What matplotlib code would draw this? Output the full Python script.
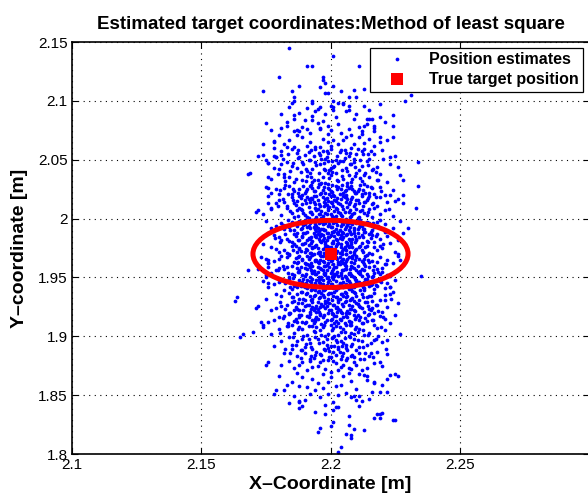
import matplotlib.pyplot as plt
from matplotlib.patches import Ellipse

plt.rcParams["font.family"] = ["Liberation Sans", "DejaVu Sans"]

# true target position [m]
target_x = 2.2
target_y = 1.97

# ellipse drawn round the target [m]
ellipse_w = 0.06
ellipse_h = 0.057

# estimation errors (dx, dy) in mm, points read one by one at the rim of the cloud
errors_outer_mm = [
    (-16, 175), (1, 168), (-9, 160), (-7, 160), (11, 160), (-20, 150), (-3, 150), (-3, 148), (-2, 145),
    (-26, 138), (-15, 138), (-14, 133), (-15, 128), (-12, 143), (-4, 142), (-2, 137), (-1, 137), (1, 143),
    (4, 138), (9, 139), (7, 133), (10, 133), (13, 140), (29, 130), (31, 135), (-14, 130), (-7, 130), (1, 130),
    (3, 128), (5, 127), (-5, 123), (-4, 125), (1, 125), (7, 126), (7, 122), (14, 115), (15, 115), (16, 115),
    (19, 116), (13, 109), (17, 109), (17, 107), (24, 109), (-12, 120), (-14, 115), (-7, 117), (-7, 114),
    (-14, 104), (-13, 105), (-9, 106), (-4, 106), (0, 105), (12, 104), (19, 99), (24, 99), (-25, 111),
    (-19, 107), (-17, 109), (-22, 95), (-22, 90), (-17, 91), (-26, 84), (-22, 83), (-21, 82), (-19, 84),
    (-24, 77), (-22, 73), (-19, 76), (-31, 69), (-24, 65), (-18, 65), (-25, 80), (-32, 68), (-28, 83),
    (34, 78), (34, 58), (28, 63), (23, 82), (26, 74), (27, 67), (28, 50), (28, 43), (33, 39), (25, 45),
    (23, 50), (-29, 36), (-28, 37), (-24, 56), (-23, 52), (-24, 49), (-23, 39), (-21, 43), (30, 22), (26, 0),
    (27, -5), (35, -19), (23, -28), (23, -34), (21, -39), (20, -12),
    (-25, -4), (-24, -8), (-24, -5), (-24, -11), (-32, -14), (-36, -37), (-28, -44), (-25, -20), (-24, -25),
    (-34, -68), (-30, -66), (-27, -58), (-26, -60), (-26, -62), (-24, -92), (-21, -116), (-37, -40),
    (-35, -71), (-29, -46), (-22, -119), (-25, -94),
    (-17, -111), (-12, -126), (27, -68), (22, -73), (19, -92), (23, -103), (25, -102), (17, -109),
    (22, -117), (19, -117), (14, -104), (11, -129), (18, -136), (19, -136), (20, -135), (13, -150),
    (9, -149), (8, -154), (6, -153), (7, -145), (7, -138), (4, -164), (1, -143), (-4, -148), (1, -133),
    (2, -130), (3, -130), (-11, -129), (-12, -125), (11, -121), (8, -122), (-5, -151), (0, -146),
    (3, -168), (-6, -134), (24, -141), (25, -141), (17, -139), (19, -139), (26, -104), (-12, -131),
    (-2, -136), (10, -124), (8, -156),
]

# estimation errors (dx, dy) in mm, estimated for the dense core of the cloud
errors_core_mm = [
    # 100..130
    (-20, 101), (-8, 103), (3, 110), (12, 102), (-14, 118), (6, 121), (-3, 113), (17, 104), (-11, 108), (0, 126),
    (9, 115), (-17, 112), (-6, 121), (14, 110), (-1, 102), (5, 128), (-9, 124), (21, 112), (-4, 107), (10, 119),
    (-13, 101), (2, 116), (-23, 105), (7, 106), (-7, 128), (15, 122), (-2, 119), (-16, 125), (11, 108), (4, 103),
    (-10, 114), (19, 127), (-5, 111), (1, 122), (8, 101), (-19, 119), (13, 126), (-12, 104), (24, 118), (-1, 109),
    # 60..100
    (-18, 93), (-6, 91), (5, 97), (13, 94), (-11, 99), (0, 92), (8, 90), (-22, 96), (-3, 98), (17, 92),
    (-8, 95), (3, 93), (11, 99), (-14, 91), (22, 97), (-1, 95), (6, 99), (-16, 97), (9, 93), (-4, 91),
    (15, 98), (-9, 92), (1, 97), (-26, 93), (19, 95),
    (-12, 82), (4, 88), (-2, 81), (10, 85), (-19, 87), (7, 83), (-6, 89), (15, 81), (-1, 86), (-10, 84),
    (20, 88), (2, 80), (-15, 89), (12, 87), (-4, 84), (25, 83), (-8, 80), (6, 86), (-21, 82), (0, 89),
    (9, 81), (-13, 86), (17, 85), (-3, 87), (13, 89),
    (-7, 72), (3, 77), (-15, 75), (11, 71), (-1, 79), (18, 74), (-11, 78), (6, 73), (-4, 76), (14, 79),
    (-20, 72), (1, 74), (9, 78), (-9, 70), (23, 76), (-2, 71), (5, 79), (-17, 78), (12, 75), (-6, 78),
    (0, 73), (16, 71), (-13, 73), (8, 76), (-24, 77),
    (-5, 63), (7, 67), (-14, 61), (2, 69), (12, 62), (-9, 66), (19, 68), (-2, 60), (5, 64), (-18, 68),
    (10, 69), (-7, 61), (15, 65), (0, 67), (-11, 63), (22, 61), (-3, 65), (8, 61), (-16, 65), (3, 62),
    (-23, 64), (13, 67), (-1, 69), (-8, 69), (18, 63),
    # 30..60
    (-10, 52), (3, 57), (-4, 51), (11, 55), (-16, 58), (6, 50), (-1, 59), (15, 52), (-7, 56), (0, 53),
    (8, 58), (-12, 55), (19, 57), (-3, 54), (5, 52), (-20, 51), (13, 59), (-8, 58), (1, 50), (-14, 53),
    (9, 53), (-5, 57), (24, 54), (-2, 52), (16, 56), (-11, 50), (4, 55), (-18, 56), (12, 51), (-6, 53),
    (7, 56), (-25, 57), (2, 58), (21, 50), (-9, 55), (10, 52), (-1, 56), (-15, 51), (14, 58), (-4, 59),
    (6, 54), (-21, 55), (17, 51),
    (-6, 42), (4, 47), (-13, 45), (9, 41), (0, 49), (-2, 43), (14, 46), (-9, 48), (6, 44), (-17, 41),
    (2, 45), (19, 48), (-5, 46), (11, 43), (-11, 42), (1, 41), (-3, 48), (8, 47), (-20, 46), (16, 42),
    (-8, 44), (5, 49), (12, 49), (-15, 48), (-1, 45), (22, 44), (-4, 41), (7, 42), (-12, 49), (3, 43),
    (-7, 47), (10, 46), (-24, 43), (15, 49), (0, 44), (-10, 46), (18, 41), (-2, 47), (-14, 43), (6, 48),
    (26, 47), (-18, 44), (13, 44),
    (-3, 32), (7, 36), (-12, 39), (1, 31), (10, 38), (-7, 34), (16, 31), (-1, 37), (4, 33), (-15, 35),
    (13, 35), (-5, 38), (21, 37), (-9, 31), (2, 39), (-19, 33), (8, 32), (-2, 35), (11, 31), (-11, 37),
    (5, 38), (-23, 38), (0, 34), (17, 39), (-6, 30), (14, 33), (-14, 31), (3, 36), (-4, 34), (9, 35),
    (-17, 39), (19, 34), (-8, 36), (6, 30), (-1, 39), (12, 37), (-26, 34), (24, 32), (-10, 33), (2, 32),
    (-13, 37), (15, 38), (-6, 39),
    # 0..30
    (-5, 22), (6, 27), (-13, 24), (2, 21), (11, 29), (-8, 26), (17, 23), (-1, 28), (4, 24), (-18, 21),
    (9, 22), (-3, 25), (14, 27), (-10, 29), (0, 23), (-15, 27), (7, 20), (21, 25), (-6, 21), (3, 29),
    (-21, 24), (12, 24), (-2, 20), (8, 28), (-11, 22), (5, 25), (-25, 28), (16, 20), (-4, 27), (1, 26),
    (-9, 23), (19, 29), (-7, 29), (10, 26), (-16, 23), (13, 21), (-1, 24), (6, 23), (-12, 28), (24, 22),
    (-3, 21), (2, 27), (-19, 26), (15, 26), (-6, 25), (9, 20), (-14, 20), (4, 28), (-8, 22), (18, 27),
    (-2, 26), (27, 28), (-23, 22), (11, 23), (0, 29), (-10, 25), (7, 26),
    (-3, 12), (8, 17), (-11, 14), (1, 11), (13, 19), (-6, 16), (19, 13), (-1, 18), (5, 14), (-16, 11),
    (10, 12), (-4, 15), (15, 17), (-9, 19), (2, 13), (-14, 17), (6, 10), (22, 15), (-7, 11), (3, 19),
    (-20, 14), (11, 14), (-2, 10), (9, 18), (-12, 12), (4, 16), (-24, 18), (17, 10), (-5, 17), (0, 16),
    (-8, 13), (21, 19), (-10, 18), (12, 16), (-17, 13), (14, 11), (-1, 14), (7, 13), (-13, 18), (26, 12),
    (-4, 11), (3, 17), (-22, 16), (16, 16), (-6, 15), (8, 10), (-15, 10), (5, 18), (-9, 12), (18, 17),
    (-3, 16), (28, 18), (-19, 12), (10, 13), (1, 19), (-11, 15), (6, 16),
    (-4, 2), (7, 7), (-12, 4), (2, 1), (12, 9), (-7, 6), (18, 3), (-2, 8), (5, 4), (-17, 1),
    (9, 2), (-5, 5), (14, 7), (-10, 9), (1, 3), (-15, 7), (6, 0), (20, 5), (-8, 1), (3, 9),
    (-21, 4), (10, 4), (-1, 0), (8, 8), (-13, 2), (4, 6), (-26, 8), (16, 0), (-6, 7), (0, 6),
    (-9, 3), (23, 9), (-11, 8), (11, 6), (-18, 3), (15, 1), (-3, 4), (6, 3), (-14, 8), (25, 2),
    (-5, 1), (2, 7), (-23, 6), (17, 6), (-7, 5), (9, 0), (-16, 0), (4, 8), (-10, 2), (19, 7),
    (-2, 6), (29, 8), (-20, 2), (12, 3), (1, 9), (-12, 5), (7, 6),
    # -30..0
    (-3, -2), (8, -7), (-11, -4), (1, -1), (13, -9), (-6, -6), (19, -3), (-1, -8), (5, -4), (-16, -1),
    (10, -2), (-4, -5), (15, -7), (-9, -9), (2, -3), (-14, -7), (6, 0), (22, -5), (-7, -1), (3, -9),
    (-20, -4), (11, -4), (-2, -10), (9, -8), (-12, -2), (4, -6), (-24, -8), (17, -10), (-5, -7), (0, -6),
    (-8, -3), (21, -9), (-10, -8), (12, -6), (-17, -3), (14, -1), (-1, -4), (7, -3), (-13, -8), (26, -2),
    (-4, -1), (3, -7), (-22, -6), (16, -6), (-6, -5), (8, -10), (-15, -10), (5, -8), (-9, -2), (18, -7),
    (-3, -6), (-19, -2), (10, -3), (1, -9), (-11, -5), (6, -6), (-27, -3), (13, -4), (-7, -10), (24, -8),
    (-4, -12), (7, -17), (-12, -14), (2, -11), (12, -19), (-7, -16), (18, -13), (-2, -18), (5, -14), (-17, -11),
    (9, -12), (-5, -15), (14, -17), (-10, -19), (1, -13), (-15, -17), (6, -10), (20, -15), (-8, -11), (3, -19),
    (-21, -14), (10, -14), (-1, -20), (8, -18), (-13, -12), (4, -16), (-25, -18), (16, -20), (-6, -17), (0, -16),
    (-9, -13), (23, -19), (-11, -18), (11, -16), (-18, -13), (15, -11), (-3, -14), (6, -13), (-14, -18), (27, -12),
    (-5, -11), (2, -17), (-23, -16), (17, -16), (-7, -15), (9, -20), (-16, -20), (4, -18), (-10, -12), (19, -17),
    (-2, -16), (-20, -12), (12, -13), (1, -19), (-12, -15), (7, -16), (-28, -13), (13, -14), (-8, -20), (22, -18),
    (-3, -22), (8, -27), (-11, -24), (1, -21), (13, -29), (-6, -26), (19, -23), (-1, -28), (5, -24), (-16, -21),
    (10, -22), (-4, -25), (15, -27), (-9, -29), (2, -23), (-14, -27), (6, -20), (22, -25), (-7, -21), (3, -29),
    (-20, -24), (11, -24), (-2, -30), (9, -28), (-12, -22), (4, -26), (-24, -28), (17, -30), (-5, -27), (0, -26),
    (-8, -23), (21, -29), (-10, -28), (12, -26), (-17, -23), (14, -21), (-1, -24), (7, -23), (-13, -28), (25, -22),
    (-4, -21), (3, -27), (-22, -26), (16, -26), (-6, -25), (8, -30), (-15, -30), (5, -28), (-9, -22), (18, -27),
    (-3, -26), (-19, -22), (10, -23), (1, -29), (-11, -25), (6, -26), (-26, -23), (13, -24), (-7, -30), (23, -28),
    # -60..-30
    (-5, -32), (6, -37), (-13, -34), (2, -31), (11, -39), (-8, -36), (17, -33), (-1, -38), (4, -34), (-18, -31),
    (9, -32), (-3, -35), (14, -37), (-10, -39), (0, -33), (-15, -37), (7, -30), (21, -35), (-6, -31), (3, -39),
    (-21, -34), (12, -34), (-2, -40), (8, -38), (-11, -32), (5, -36), (-25, -38), (16, -40), (-4, -37), (1, -36),
    (-9, -33), (19, -39), (-7, -38), (10, -36), (-16, -33), (13, -31), (-1, -34), (6, -33), (-12, -38), (24, -32),
    (-3, -31), (2, -37), (-19, -36), (15, -36), (-6, -35), (9, -40), (-14, -40),
    (-2, -42), (8, -47), (-10, -44), (3, -41), (13, -49), (-6, -46), (18, -43), (0, -48), (5, -44), (-15, -41),
    (10, -42), (-4, -45), (15, -47), (-8, -49), (1, -43), (-13, -47), (6, -40), (22, -45), (-7, -41), (4, -49),
    (-19, -44), (11, -44), (-1, -50), (9, -48), (-11, -42), (2, -46), (-23, -48), (17, -50), (-5, -47), (-2, -46),
    (-9, -43), (20, -49), (-12, -48), (12, -46), (-17, -43), (14, -41), (-3, -44), (7, -43), (-14, -48), (26, -42),
    (-5, -41), (3, -47), (-21, -46), (16, -46), (-7, -45), (7, -50), (-16, -50),
    (-4, -52), (7, -57), (-12, -54), (1, -51), (12, -59), (-7, -56), (19, -53), (-2, -58), (5, -54), (-16, -51),
    (9, -52), (-5, -55), (14, -57), (-10, -59), (2, -53), (-14, -57), (6, -50), (21, -55), (-8, -51), (3, -59),
    (-20, -54), (10, -54), (0, -60), (8, -58), (-12, -52), (4, -56), (-24, -58), (17, -60), (-6, -57), (0, -56),
    (-9, -53), (23, -59), (-11, -58), (11, -56), (-18, -53), (15, -51), (-3, -54), (6, -53), (-13, -58), (25, -52),
    (-4, -51), (2, -57), (-22, -56), (16, -56), (-6, -55), (8, -60), (-15, -60),
    # -100..-60
    (-3, -62), (8, -67), (-11, -64), (2, -61), (13, -69), (-6, -66), (18, -63), (-1, -68), (5, -64), (-17, -61),
    (10, -62), (-4, -65), (15, -67), (-9, -69), (1, -63), (-14, -67), (6, -60), (21, -65), (-7, -61), (3, -69),
    (-20, -64), (11, -64), (-2, -70), (9, -68), (-12, -62), (4, -66), (-23, -68),
    (-5, -72), (6, -77), (-13, -74), (1, -71), (11, -79), (-8, -76), (17, -73), (0, -78), (4, -74), (-16, -71),
    (9, -72), (-3, -75), (14, -77), (-10, -79), (2, -73), (-15, -77), (7, -70), (20, -75), (-6, -71), (3, -79),
    (-19, -74), (12, -74), (-1, -80), (8, -78), (-11, -72), (5, -76), (-22, -78),
    (-2, -82), (8, -87), (-10, -84), (3, -81), (13, -89), (-6, -86), (18, -83), (0, -88), (5, -84), (-15, -81),
    (10, -82), (-4, -85), (15, -87), (-8, -89), (1, -83), (-13, -87), (6, -80), (22, -85), (-7, -81), (4, -89),
    (-18, -84), (11, -84), (-1, -90), (9, -88), (-11, -82), (2, -86),
    (-4, -92), (7, -97), (-12, -94), (1, -91), (12, -99), (-7, -96), (17, -93), (-2, -98), (5, -94), (-16, -91),
    (9, -92), (-5, -95), (14, -97), (-9, -99), (2, -93), (-14, -97), (6, -90), (20, -95), (-8, -91), (3, -99),
    (-19, -94), (10, -94), (0, -100), (8, -98), (-11, -92), (4, -96), (-3, -90),
    # -130..-100
    (-3, -102), (8, -108), (-11, -105), (2, -112), (13, -103), (-6, -116), (17, -110), (-1, -119), (5, -104),
    (-15, -109), (10, -115), (-4, -122), (14, -107), (-9, -113), (1, -126), (-13, -101), (6, -118), (20, -111),
    (-7, -106), (3, -120), (-18, -116), (11, -102), (-2, -128), (9, -121), (-10, -124), (4, -111), (-20, -104),
    (16, -117), (-5, -110), (0, -105), (-8, -119), (22, -106), (-12, -112), (12, -125), (-16, -127), (15, -123),
    (-3, -114), (7, -101), (-14, -121), (-1, -109),
]

# further estimates in the densest part, between the ones above
errors_core_fill_mm = [
    # 60..90
    (-9.5, 61.5), (4.5, 66.5), (-2.5, 72.5), (11.5, 64.5), (-15.5, 70.5), (0.5, 78.5), (7.5, 85.5), (-6.5, 83.5),
    (14.5, 75.5), (-12.5, 88.5), (2.5, 62.5), (-4.5, 68.5), (9.5, 73.5), (-18.5, 80.5), (5.5, 81.5), (-1.5, 87.5),
    (17.5, 69.5), (-7.5, 65.5), (12.5, 84.5), (-10.5, 76.5), (-3.5, 60.5), (6.5, 70.5), (-13.5, 63.5), (1.5, 74.5),
    (10.5, 89.5), (-8.5, 79.5), (20.5, 80.5), (-0.5, 64.5), (3.5, 86.5), (-16.5, 84.5), (8.5, 63.5), (-5.5, 75.5),
    (15.5, 87.5), (-11.5, 69.5), (-1.5, 82.5), (4.5, 71.5), (-20.5, 67.5), (13.5, 68.5), (-2.5, 77.5), (6.5, 60.5),
    (-7.5, 88.5), (0.5, 69.5), (11.5, 79.5), (-14.5, 77.5), (2.5, 83.5), (-9.5, 72.5), (18.5, 62.5), (-4.5, 85.5),
    (7.5, 76.5), (-17.5, 61.5), (9.5, 66.5), (-0.5, 71.5), (-6.5, 62.5), (14.5, 84.5), (3.5, 78.5), (-12.5, 81.5),
    (5.5, 88.5), (-3.5, 80.5), (16.5, 72.5), (-8.5, 86.5),
    # 30..60
    (-5.5, 31.5), (3.5, 34.5), (-11.5, 38.5), (8.5, 33.5), (-1.5, 41.5), (13.5, 44.5), (-7.5, 47.5), (0.5, 52.5),
    (6.5, 57.5), (-14.5, 55.5), (10.5, 30.5), (-3.5, 36.5), (4.5, 40.5), (-9.5, 43.5), (17.5, 48.5), (-0.5, 50.5),
    (-18.5, 46.5), (2.5, 55.5), (11.5, 58.5), (-6.5, 53.5), (7.5, 37.5), (-12.5, 32.5), (1.5, 45.5), (-4.5, 59.5),
    (14.5, 35.5), (-8.5, 39.5), (5.5, 48.5), (-2.5, 44.5), (9.5, 51.5), (-16.5, 50.5), (0.5, 32.5), (-10.5, 57.5),
    (3.5, 42.5), (12.5, 40.5), (-5.5, 49.5), (19.5, 53.5), (-1.5, 33.5), (6.5, 46.5), (-13.5, 41.5), (8.5, 55.5),
    (-7.5, 35.5), (2.5, 38.5), (-20.5, 40.5), (15.5, 56.5), (-3.5, 51.5), (4.5, 58.5), (-11.5, 47.5), (10.5, 45.5),
    (-0.5, 39.5), (7.5, 31.5), (-6.5, 44.5), (1.5, 49.5), (-15.5, 36.5), (13.5, 51.5), (-2.5, 56.5), (5.5, 35.5),
    (-9.5, 53.5), (11.5, 36.5), (-4.5, 42.5), (0.5, 58.5), (-17.5, 58.5), (9.5, 42.5), (-1.5, 47.5), (3.5, 50.5),
    (-8.5, 30.5), (16.5, 43.5), (-12.5, 51.5), (6.5, 39.5), (-5.5, 37.5), (2.5, 47.5), (-3.5, 30.5), (12.5, 54.5),
    (-10.5, 34.5), (4.5, 32.5), (-7.5, 58.5), (8.5, 48.5), (-0.5, 55.5), (-14.5, 45.5), (1.5, 36.5), (22.5, 38.5),
    (-6.5, 49.5), (10.5, 53.5), (-2.5, 40.5), (5.5, 53.5), (-19.5, 54.5), (7.5, 44.5), (-4.5, 33.5), (14.5, 47.5),
    (-8.5, 46.5), (0.5, 43.5),
    # 0..30
    (-4.5, 1.5), (5.5, 4.5), (-10.5, 8.5), (2.5, 11.5), (12.5, 14.5), (-6.5, 17.5), (0.5, 22.5), (8.5, 27.5),
    (-14.5, 25.5), (3.5, 0.5), (-1.5, 6.5), (9.5, 10.5), (-8.5, 13.5), (15.5, 18.5), (-2.5, 20.5), (-17.5, 16.5),
    (4.5, 25.5), (11.5, 28.5), (-5.5, 23.5), (6.5, 7.5), (-11.5, 2.5), (1.5, 15.5), (-3.5, 29.5), (13.5, 5.5),
    (-7.5, 9.5), (7.5, 18.5), (-0.5, 14.5), (10.5, 21.5), (-15.5, 20.5), (2.5, 2.5), (-9.5, 27.5), (4.5, 12.5),
    (14.5, 10.5), (-4.5, 19.5), (18.5, 23.5), (-1.5, 3.5), (6.5, 16.5), (-12.5, 11.5), (8.5, 25.5), (-6.5, 5.5),
    (2.5, 8.5), (-19.5, 10.5), (16.5, 26.5), (-3.5, 21.5), (3.5, 28.5), (-10.5, 17.5), (9.5, 15.5), (0.5, 9.5),
    (7.5, 1.5), (-5.5, 14.5), (1.5, 19.5), (-13.5, 6.5), (12.5, 21.5), (-2.5, 26.5), (5.5, 5.5), (-8.5, 23.5),
    (11.5, 6.5), (-4.5, 12.5), (-0.5, 28.5), (-16.5, 28.5), (8.5, 12.5), (-1.5, 17.5), (3.5, 20.5), (-7.5, 0.5),
    (15.5, 13.5), (-11.5, 21.5), (6.5, 9.5), (-5.5, 7.5), (2.5, 17.5), (-2.5, 0.5), (11.5, 24.5), (-9.5, 4.5),
    (4.5, 2.5), (-6.5, 28.5), (7.5, 22.5), (-0.5, 25.5), (-13.5, 15.5), (1.5, 4.5), (20.5, 8.5), (-5.5, 19.5),
    (9.5, 3.5), (-3.5, 10.5), (4.5, 18.5), (-18.5, 24.5), (6.5, 24.5), (-4.5, 26.5), (13.5, 18.5), (-7.5, 14.5),
    (0.5, 1.5), (3.5, 13.5), (-12.5, 27.5), (8.5, 5.5), (-1.5, 11.5), (17.5, 15.5), (-8.5, 7.5), (2.5, 24.5),
    (-14.5, 3.5), (10.5, 17.5), (-3.5, 16.5), (5.5, 21.5), (-21.5, 13.5), (0.5, 18.5), (12.5, 1.5), (-6.5, 22.5),
    (7.5, 11.5), (-10.5, 24.5), (1.5, 27.5), (-2.5, 13.5), (14.5, 26.5), (-0.5, 5.5),
    # -30..0
    (-3.5, -1.5), (6.5, -4.5), (-9.5, -8.5), (1.5, -11.5), (11.5, -14.5), (-5.5, -17.5), (-0.5, -22.5), (7.5, -27.5),
    (-13.5, -25.5), (4.5, -0.5), (-2.5, -6.5), (10.5, -10.5), (-7.5, -13.5), (16.5, -18.5), (-1.5, -20.5),
    (-16.5, -16.5), (3.5, -25.5), (12.5, -28.5), (-4.5, -23.5), (5.5, -7.5), (-12.5, -2.5), (2.5, -15.5),
    (-2.5, -29.5), (14.5, -5.5), (-8.5, -9.5), (8.5, -18.5), (0.5, -14.5), (9.5, -21.5), (-14.5, -20.5), (1.5, -2.5),
    (-10.5, -27.5), (5.5, -12.5), (13.5, -10.5), (-3.5, -19.5), (19.5, -23.5), (-0.5, -3.5), (7.5, -16.5),
    (-11.5, -11.5), (9.5, -25.5), (-5.5, -5.5), (3.5, -8.5), (-18.5, -10.5), (17.5, -26.5), (-4.5, -21.5),
    (2.5, -28.5), (-9.5, -17.5), (10.5, -15.5), (-1.5, -9.5), (8.5, -1.5), (-6.5, -14.5), (0.5, -19.5),
    (-12.5, -6.5), (13.5, -21.5), (-1.5, -26.5), (4.5, -5.5), (-7.5, -23.5), (12.5, -6.5), (-3.5, -12.5),
    (0.5, -28.5), (-15.5, -28.5), (7.5, -12.5), (-2.5, -17.5), (4.5, -20.5), (-6.5, -0.5), (16.5, -13.5),
    (-10.5, -21.5), (5.5, -9.5), (-4.5, -7.5), (1.5, -17.5), (-1.5, -0.5), (10.5, -24.5), (-8.5, -4.5), (3.5, -2.5),
    (-5.5, -28.5), (6.5, -22.5), (0.5, -25.5), (-12.5, -15.5), (2.5, -4.5), (21.5, -8.5), (-4.5, -19.5), (8.5, -3.5),
    (-2.5, -10.5), (5.5, -18.5), (-17.5, -24.5), (7.5, -24.5), (-3.5, -26.5), (14.5, -18.5), (-6.5, -14.5),
    (-0.5, -1.5), (4.5, -13.5), (-11.5, -27.5), (9.5, -5.5), (-0.5, -11.5), (18.5, -15.5), (-7.5, -7.5),
    (3.5, -24.5), (-13.5, -3.5), (11.5, -17.5), (-2.5, -16.5), (6.5, -21.5), (-20.5, -13.5), (1.5, -18.5),
    (13.5, -1.5), (-5.5, -22.5), (8.5, -11.5), (-9.5, -24.5), (2.5, -27.5), (-1.5, -13.5), (15.5, -26.5), (0.5, -5.5),
    # -60..-30
    (-4.5, -31.5), (4.5, -34.5), (-10.5, -38.5), (9.5, -33.5), (-0.5, -41.5), (14.5, -44.5), (-6.5, -47.5),
    (1.5, -52.5), (7.5, -57.5), (-13.5, -55.5), (11.5, -30.5), (-2.5, -36.5), (5.5, -40.5), (-8.5, -43.5),
    (18.5, -48.5), (0.5, -50.5), (-17.5, -46.5), (3.5, -55.5), (12.5, -58.5), (-5.5, -53.5), (8.5, -37.5),
    (-11.5, -32.5), (2.5, -45.5), (-3.5, -59.5), (15.5, -35.5), (-7.5, -39.5), (6.5, -48.5), (-1.5, -44.5),
    (10.5, -51.5), (-15.5, -50.5), (1.5, -32.5), (-9.5, -57.5), (4.5, -42.5), (13.5, -40.5), (-4.5, -49.5),
    (20.5, -53.5), (-0.5, -33.5), (7.5, -46.5), (-12.5, -41.5), (9.5, -55.5), (-6.5, -35.5), (3.5, -38.5),
    (-19.5, -40.5), (16.5, -56.5), (-2.5, -51.5), (5.5, -58.5), (-10.5, -47.5), (11.5, -45.5), (0.5, -39.5),
    (8.5, -31.5), (-5.5, -44.5), (2.5, -49.5), (-14.5, -36.5), (14.5, -51.5), (-1.5, -56.5), (6.5, -35.5),
    (-8.5, -53.5), (12.5, -36.5), (-3.5, -42.5), (1.5, -58.5), (-16.5, -58.5), (10.5, -42.5), (-0.5, -47.5),
    (4.5, -50.5), (-7.5, -30.5), (17.5, -43.5), (-11.5, -51.5), (7.5, -39.5), (-4.5, -37.5), (3.5, -47.5),
    (-2.5, -30.5), (13.5, -54.5), (-9.5, -34.5), (5.5, -32.5), (-6.5, -58.5), (9.5, -48.5), (0.5, -55.5),
    (-13.5, -45.5), (2.5, -36.5), (23.5, -38.5), (-5.5, -49.5), (11.5, -53.5), (-1.5, -40.5), (6.5, -53.5),
    (-18.5, -54.5), (8.5, -44.5), (-3.5, -33.5), (15.5, -47.5), (-7.5, -46.5), (1.5, -43.5),
    # -90..-60
    (-8.5, -61.5), (5.5, -66.5), (-1.5, -72.5), (12.5, -64.5), (-14.5, -70.5), (1.5, -78.5), (8.5, -85.5),
    (-5.5, -83.5), (15.5, -75.5), (-11.5, -88.5), (3.5, -62.5), (-3.5, -68.5), (10.5, -73.5), (-17.5, -80.5),
    (6.5, -81.5), (-0.5, -87.5), (18.5, -69.5), (-6.5, -65.5), (13.5, -84.5), (-9.5, -76.5), (-2.5, -60.5),
    (7.5, -70.5), (-12.5, -63.5), (2.5, -74.5), (11.5, -89.5), (-7.5, -79.5), (21.5, -80.5), (0.5, -64.5),
    (4.5, -86.5), (-15.5, -84.5), (9.5, -63.5), (-4.5, -75.5), (16.5, -87.5), (-10.5, -69.5), (-0.5, -82.5),
    (5.5, -71.5), (-19.5, -67.5), (14.5, -68.5), (-1.5, -77.5), (7.5, -60.5), (-6.5, -88.5), (1.5, -69.5),
    (12.5, -79.5), (-13.5, -77.5), (3.5, -83.5), (-8.5, -72.5), (19.5, -62.5), (-3.5, -85.5), (8.5, -76.5),
    (-16.5, -61.5), (10.5, -66.5), (0.5, -71.5), (-5.5, -62.5), (15.5, -84.5), (4.5, -78.5), (-11.5, -81.5),
    (6.5, -88.5), (-2.5, -80.5), (17.5, -72.5), (-7.5, -86.5),
]

errors_mm = errors_outer_mm + errors_core_mm + errors_core_fill_mm
est_x = [target_x + dx / 1000 for dx, dy in errors_mm]
est_y = [target_y + dy / 1000 for dx, dy in errors_mm]

x_ticks = [2.1, 2.15, 2.2, 2.25]
x_labels = ["2.1", "2.15", "2.2", "2.25"]
y_ticks = [1.8, 1.85, 1.9, 1.95, 2.0, 2.05, 2.1, 2.15]
y_labels = ["1.8", "1.85", "1.9", "1.95", "2", "2.05", "2.1", "2.15"]

fig = plt.figure(figsize=(5.88, 4.96), dpi=100)
ax = fig.add_axes([72 / 588, 42 / 496, 517 / 588, 412 / 496])

ax.plot(est_x, est_y, "o", color="#0000ff", ms=2.7, mew=0, label="Position estimates")
ax.add_patch(Ellipse((target_x, target_y), ellipse_w, ellipse_h, fill=False, color="#ff0000", lw=3.6, zorder=3))
ax.plot([target_x], [target_y], "s", color="#ff0000", ms=8, mew=0, label="True target position", zorder=4)

ax.set_xlim(2.1, 2.3)
ax.set_ylim(1.8, 2.15)
ax.set_xticks(x_ticks)
ax.set_xticklabels(x_labels)
ax.set_yticks(y_ticks)
ax.set_yticklabels(y_labels)
ax.tick_params(direction="in", length=4, top=True, right=True, labelsize=11)
ax.tick_params(axis="x", pad=3)
ax.tick_params(axis="y", pad=3)
ax.grid(True, linestyle=(0, (1, 4)), color="black", lw=0.8)
for sp in ax.spines.values():
    sp.set_linewidth(1.2)

ax.set_title("Estimated target coordinates:Method of least square", fontsize=13.5, fontweight="bold", pad=9)
ax.set_xlabel("X–Coordinate [m]", fontsize=14, fontweight="bold", labelpad=3)
ax.set_ylabel("Y–coordinate [m]", fontsize=14, fontweight="bold", labelpad=7)

leg = ax.legend(loc="upper right", prop={"size": 11.5, "weight": "bold"}, fancybox=False, framealpha=1,
                edgecolor="black", borderaxespad=0.35, borderpad=0.3, labelspacing=0.3, numpoints=1,
                handlelength=2.8, handletextpad=0.6)
leg.get_frame().set_linewidth(0.9)

fig.savefig("out.png", dpi=100)
